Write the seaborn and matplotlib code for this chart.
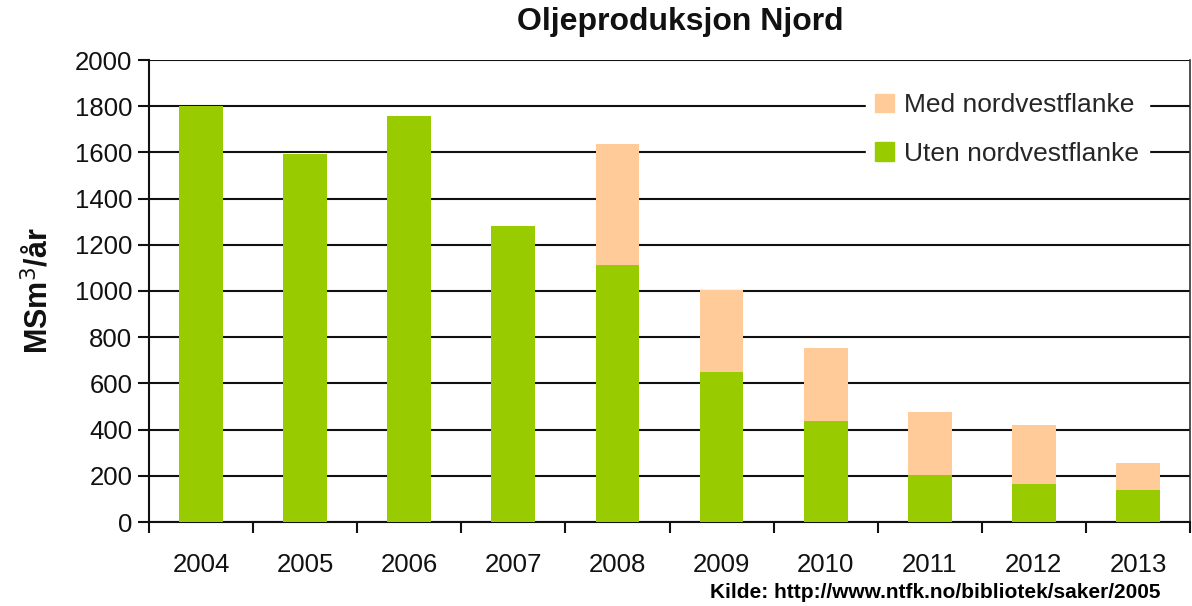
import matplotlib
matplotlib.use("Agg")
import matplotlib.pyplot as plt
import seaborn as sns
import pandas as pd
from matplotlib.patches import Patch

years = ["2004", "2005", "2006", "2007", "2008", "2009", "2010", "2011", "2012", "2013"]
uten = [1800, 1595, 1757, 1283, 1113, 648, 437, 205, 163, 140]
med_total = [1800, 1595, 1757, 1283, 1635, 1005, 752, 475, 420, 255]
yticks = [0, 200, 400, 600, 800, 1000, 1200, 1400, 1600, 1800, 2000]

green = "#99CC00"
peach = "#FFCC99"

sns.set_theme(style="white")
plt.rcParams['font.family'] = ['Liberation Sans', 'DejaVu Sans']

df = pd.DataFrame({"year": years, "uten": uten, "total": med_total})

fig = plt.figure(figsize=(11.92, 6.06), dpi=100)
ax = fig.add_axes([149/1192, (606-522)/606, (1190-149)/1192, (522-60)/606])

sns.barplot(data=df, x="year", y="total", color=peach, width=0.42, ax=ax,
            saturation=1, zorder=3, edgecolor=peach, linewidth=0)
sns.barplot(data=df, x="year", y="uten", color=green, width=0.42, ax=ax,
            saturation=1, zorder=4, edgecolor=green, linewidth=0)

ax.set_xlim(-0.5, len(years) - 0.5)
ax.set_ylim(0, 2000)
ax.set_yticks(yticks)
ax.set_yticklabels([str(v) for v in yticks], fontsize=18.5, color="#111111")
ax.tick_params(axis="y", length=8, width=1.5, color="#111111", pad=4, left=True)
ax.tick_params(axis="x", which="major", length=0, labelsize=18.5, pad=22, labelcolor="#111111")
ax.set_xticks([i - 0.5 for i in range(len(years) + 1)], minor=True)
ax.tick_params(axis="x", which="minor", length=8, width=1.5, color="#111111", bottom=True)

ax.grid(axis="y", color="#111111", linewidth=1.5, zorder=1)
ax.set_axisbelow(True)
for s in ["left", "bottom"]:
    ax.spines[s].set_color("#111111")
    ax.spines[s].set_linewidth(1.5)
ax.spines["right"].set_color("#333333")
ax.spines["right"].set_linewidth(1.2)
ax.spines["top"].set_visible(False)

ax.set_xlabel("")
ax.set_ylabel("MSm$^3$/år", fontsize=22, fontweight="bold", labelpad=14, color="#111111")

fig.text(680/1192, 1 - 22/606, "Oljeproduksjon Njord", ha="center", va="center",
         fontsize=23, fontweight="bold", color="#111111")
fig.text(1160/1192, 1 - 592/606, "Kilde: http://www.ntfk.no/bibliotek/saker/2005",
         ha="right", va="center", fontsize=15, fontweight="bold", color="#000000")

handles = [Patch(facecolor=peach, edgecolor=peach, label="Med nordvestflanke"),
           Patch(facecolor=green, edgecolor=green, label="Uten nordvestflanke")]
leg = ax.legend(handles=handles, loc="upper left", bbox_to_anchor=((866-149)/1041, (522-84)/462),
                frameon=True, facecolor="white", edgecolor="white", framealpha=1,
                fontsize=19, handlelength=0.7, handleheight=0.7, handletextpad=0.4,
                labelspacing=0.92, borderpad=0.35, borderaxespad=0, fancybox=False)
leg.set_zorder(10)

fig.savefig("out.png", dpi=100, facecolor="white")
